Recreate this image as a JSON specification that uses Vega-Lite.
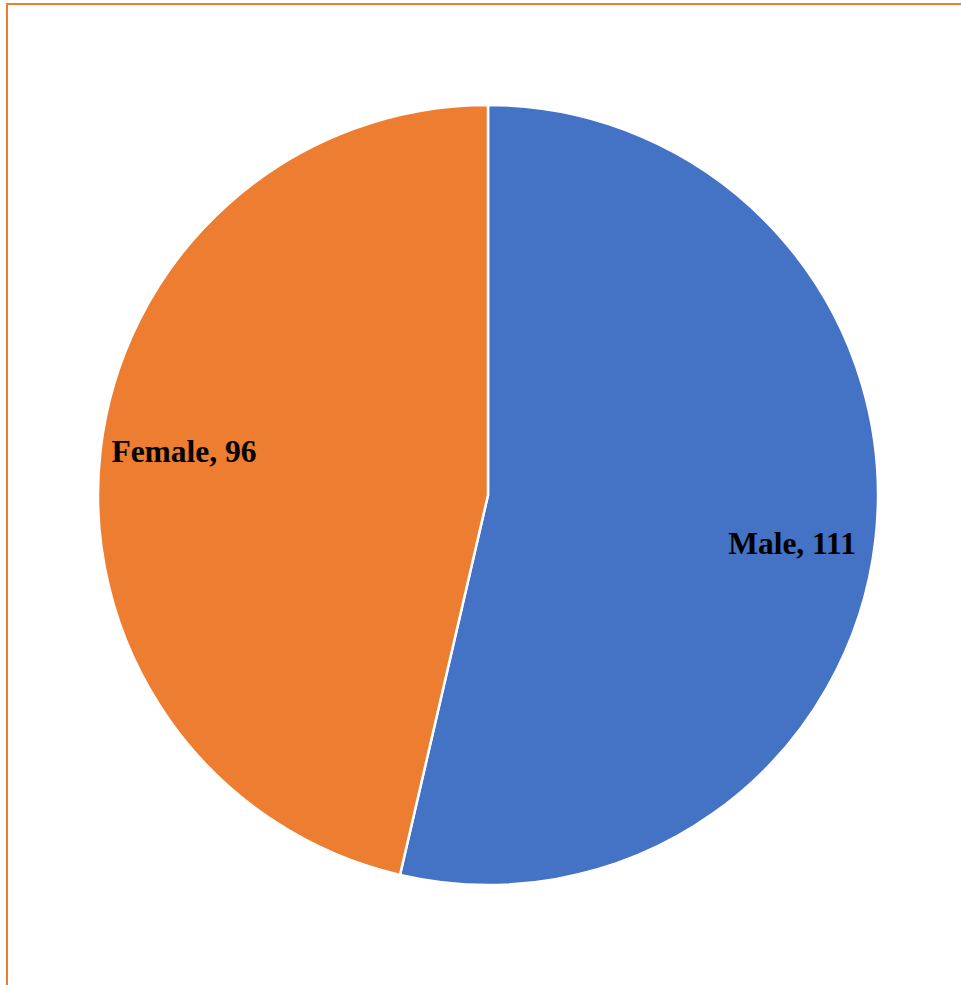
{
  "$schema": "https://vega.github.io/schema/vega-lite/v6.json",
  "width": 962,
  "height": 982,
  "padding": {"left": 7, "top": 4, "right": 0, "bottom": 0},
  "background": "white",
  "view": {"stroke": "#ED7D31", "strokeWidth": 2},
  "data": {
    "values": [
      {"gender": "Male", "count": 111, "rank": 1},
      {"gender": "Female", "count": 96, "rank": 2}
    ]
  },
  "encoding": {
    "theta": {"field": "count", "type": "quantitative", "stack": true},
    "order": {"field": "rank", "type": "quantitative"},
    "color": {
      "field": "gender",
      "type": "nominal",
      "scale": {"domain": ["Male", "Female"], "range": ["#4472C4", "#ED7D31"]},
      "legend": null
    }
  },
  "layer": [
    {
      "mark": {"type": "arc", "outerRadius": 390, "stroke": "white", "strokeWidth": 2.5}
    },
    {
      "transform": [
        {"calculate": "datum.gender + ', ' + datum.count", "as": "label"}
      ],
      "layer": [
        {
          "mark": {
            "type": "text",
            "radius": 306,
            "dy": 15,
            "font": "Liberation Serif",
            "fontSize": 31.5,
            "fontWeight": "bold",
            "align": "center",
            "baseline": "middle"
          },
          "encoding": {
            "text": {"field": "label", "type": "nominal"},
            "color": {"value": "black"},
            "opacity": {
              "condition": {"test": "datum.gender === 'Male'", "value": 1},
              "value": 0
            }
          }
        },
        {
          "mark": {
            "type": "text",
            "radius": 306,
            "dy": -7,
            "font": "Liberation Serif",
            "fontSize": 31.5,
            "fontWeight": "bold",
            "align": "center",
            "baseline": "middle"
          },
          "encoding": {
            "text": {"field": "label", "type": "nominal"},
            "color": {"value": "black"},
            "opacity": {
              "condition": {"test": "datum.gender === 'Female'", "value": 1},
              "value": 0
            }
          }
        }
      ]
    }
  ]
}
